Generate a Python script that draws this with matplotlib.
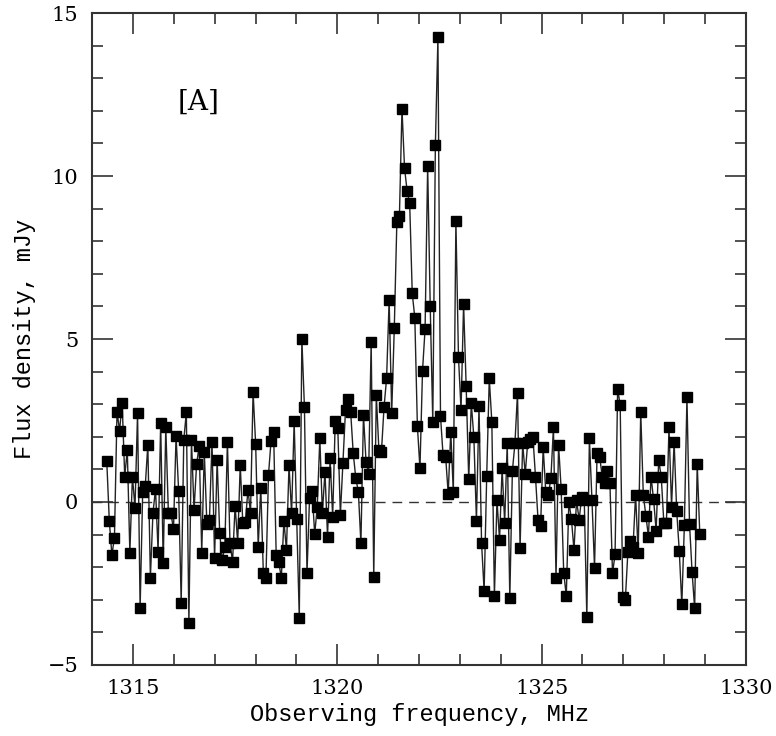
import numpy as np
import matplotlib
matplotlib.use("Agg")
import matplotlib.pyplot as plt
import matplotlib.ticker as mticker

# spectrum channels (uniform channel grid)
freq_start = 1314.36
freq_end = 1328.87
flux = [
    1.26, -0.58, -1.63, -1.09, 2.77, 2.19, 3.05, 0.78, 1.60, -1.55,
    0.78, -0.17, 2.72, -3.26, 0.32, 0.49, 1.75, -2.32, -0.33, 0.39,
    -1.52, 2.43, -1.88, 2.31, -0.33, -0.35, -0.84, 2.02, 0.34, -3.09,
    1.90, 2.75, -3.70, 1.90, -0.25, 1.16, 1.72, -1.55, 1.54, -0.67,
    -0.55, 1.85, -1.73, 1.29, -0.96, -1.78, -1.37, 1.85, -1.25, -1.83,
    -0.11, -1.25, 1.13, -0.65, -0.60, 0.37, -0.33, 3.38, 1.78, -1.37,
    0.44, -2.19, -2.34, 0.83, 1.88, 2.16, -1.63, -1.83, -2.34, -0.58,
    -1.47, 1.13, -0.35, 2.47, -0.53, -3.55, 5.00, 2.92, -2.19, 0.13,
    0.34, -0.99, -0.14, 1.95, -0.33, 0.93, -1.06, 1.34, -0.45, 2.47,
    2.26, -0.40, 1.19, 2.82, 3.16, 2.77, 1.51, 0.73, 0.32, -1.27,
    2.67, 1.24, 0.86, 4.90, -2.31, 3.28, 1.61, 1.54, 2.90, 3.79,
    6.20, 2.74, 5.33, 8.58, 8.77, 12.06, 10.24, 9.54, 9.16, 6.40,
    5.65, 2.33, 1.03, 4.03, 5.31, 10.31, 6.00, 2.46, 10.94, 14.25,
    2.64, 1.44, 1.39, 0.26, 2.16, 0.30, 8.63, 4.46, 2.82, 6.07,
    3.56, 0.70, 3.03, 1.98, -0.57, 2.94, -1.27, -2.73, 0.80, 3.79,
    2.46, -2.88, 0.06, -1.16, 1.03, -0.63, 1.80, -2.95, 0.95, 1.80,
    3.35, -1.42, 1.80, 0.86, 1.85, 1.92, 2.00, 0.78, -0.55, -0.73,
    1.68, 0.32, 0.21, 0.73, 2.29, -2.34, 1.75, 0.40, -2.17, -2.88,
    0.01, -0.53, -1.47, 0.06, -0.55, 0.16, 0.06, -3.52, 1.95, 0.06,
    -2.01, 1.49, 1.39, 0.78, 0.57, 0.96, 0.59, -2.19, -1.61, 3.46,
    2.98, -2.93, -3.00, -1.52, -1.20, -1.37, 0.22, -1.57, 2.77, 0.22,
    -0.43, -1.06, 0.78, 0.08, -0.88, 1.29, 0.76, -0.64, -0.65, 2.29,
    -0.14, 1.85, -0.27, -1.49, -3.14, -0.70, 3.21, -0.67, -2.15, -3.26,
    1.16, -0.98,
]
freq = np.linspace(freq_start, freq_end, len(flux))

panel_label = "[A]"
xlabel = "Observing frequency, MHz"
ylabel = "Flux density, mJy"

fig = plt.figure(figsize=(7.76, 7.36), dpi=100, facecolor='white')
ax = fig.add_axes([0.1186, 0.0965, 0.8427, 0.8858])

ax.axhline(0, color='#333333', lw=1.0, ls=(0, (7, 5)), zorder=1)
ax.plot(freq, flux, color='#222222', lw=1.0, marker='s', ms=7,
        mfc='black', mec='black', zorder=2)

ax.set_xlim(1314, 1330)
ax.set_ylim(-5, 15)
ax.xaxis.set_major_locator(mticker.MultipleLocator(5))
ax.xaxis.set_minor_locator(mticker.MultipleLocator(1))
ax.yaxis.set_major_locator(mticker.MultipleLocator(5))
ax.yaxis.set_minor_locator(mticker.MultipleLocator(1))
ax.tick_params(which='both', direction='in', top=True, right=True,
               width=1.2, color='#333333')
ax.tick_params(which='major', length=15, labelsize=15, pad=10)
ax.tick_params(which='minor', length=8)
for lab in ax.get_xticklabels() + ax.get_yticklabels():
    lab.set_family('DejaVu Serif')
for sp in ax.spines.values():
    sp.set_linewidth(1.5)
    sp.set_color('#333333')

ax.set_xlabel(xlabel, family='Liberation Mono', fontsize=17, labelpad=4)
ax.set_ylabel(ylabel, family='Liberation Mono', fontsize=17, labelpad=8)

ax.text(1316.6, 12.25, panel_label, family='DejaVu Serif', fontsize=20,
        ha='center', va='center')

fig.savefig('out.png', dpi=100)
